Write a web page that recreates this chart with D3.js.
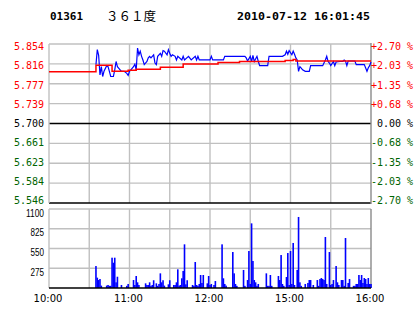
<!DOCTYPE html>
<html><head><meta charset="utf-8">
<script src="https://cdn.jsdelivr.net/npm/d3@7"></script>
<style>html,body{margin:0;padding:0;background:#fff;overflow:hidden}</style>
</head><body><svg id="c" width="414" height="314"></svg>
<script>
// ---------- data ----------
const stockCode = "01361";
const stockName = "３６１度";
const stamp = "2010-07-12 16:01:45";
const prevClose = 5.700;
const priceLabels = ["5.854","5.816","5.777","5.739","5.700","5.661","5.623","5.584","5.546"];
const pctLabels = ["+2.70 %","+2.03 %","+1.35 %","+0.68 %"," 0.00 %","-0.68 %","-1.35 %","-2.03 %","-2.70 %"];
const volTicks = [1100, 825, 550, 275];
const timeLabels = ["10:00","11:00","12:00","15:00","16:00"];

const priceTimes = ["10:35","10:36","10:37","10:38","10:39","10:40","10:41","10:43","10:44","10:45","10:46","10:48","10:49","10:50","10:51","10:53","10:54","10:56","10:58","10:59","11:00","11:01","11:03","11:04","11:05","11:06","11:07","11:08","11:09","11:10","11:11","11:13","11:14","11:15","11:16","11:18","11:19","11:20","11:21","11:23","11:24","11:25","11:26","11:28","11:29","11:30","11:31","11:32","11:34","11:35","11:36","11:39","11:40","11:41","11:44","11:46","11:49","11:50","11:51","11:52","12:00","12:01","12:02","12:10","12:11","12:26","12:27","12:28","12:30","14:31","14:32","14:33","14:35","14:36","14:37","14:43","14:44","14:54","14:56","14:57","14:58","14:59","15:01","15:02","15:03","15:04","15:05","15:06","15:07","15:08","15:09","15:11","15:14","15:15","15:24","15:26","15:27","15:28","15:29","15:30","15:32","15:33","15:34","15:37","15:39","15:40","15:41","15:42","15:43","15:48","15:49","15:55","15:57","15:58","15:59","16:00"];
const priceValues = [5.814,5.843,5.832,5.794,5.810,5.791,5.801,5.812,5.810,5.801,5.791,5.791,5.804,5.820,5.810,5.804,5.801,5.801,5.797,5.793,5.801,5.804,5.810,5.815,5.804,5.846,5.833,5.840,5.830,5.823,5.814,5.820,5.827,5.830,5.827,5.833,5.817,5.814,5.830,5.836,5.830,5.841,5.840,5.833,5.843,5.836,5.830,5.833,5.830,5.823,5.830,5.823,5.830,5.823,5.830,5.823,5.830,5.823,5.830,5.823,5.823,5.830,5.823,5.823,5.830,5.830,5.827,5.821,5.830,5.820,5.832,5.820,5.830,5.820,5.812,5.812,5.830,5.830,5.833,5.840,5.834,5.841,5.833,5.840,5.834,5.827,5.823,5.801,5.810,5.807,5.804,5.801,5.801,5.812,5.812,5.823,5.830,5.820,5.817,5.812,5.820,5.812,5.819,5.820,5.820,5.823,5.821,5.812,5.821,5.821,5.814,5.814,5.801,5.808,5.812,5.819];

const avgTimes = ["10:00","10:35","10:47","10:59","11:05","11:23","11:40","12:06","12:22","14:56","15:02","15:04","16:00"];
const avgValues = [5.800,5.813,5.801,5.803,5.805,5.809,5.815,5.818,5.820,5.822,5.824,5.821,5.821];

const volTimes = ["10:35","10:36","10:37","10:38","10:39","10:43","10:44","10:45","10:46","10:47","10:48","10:49","10:50","10:51","10:54","10:58","10:59","11:03","11:04","11:05","11:06","11:07","11:12","11:13","11:14","11:15","11:16","11:17","11:18","11:20","11:21","11:22","11:23","11:24","11:25","11:26","11:29","11:30","11:33","11:34","11:35","11:36","11:37","11:38","11:39","11:40","11:41","11:42","11:43","11:47","11:48","11:49","11:50","11:51","11:52","11:53","11:54","11:55","11:58","11:59","12:00","12:01","12:03","12:04","12:09","12:10","12:11","12:12","12:17","12:18","12:19","12:20","12:25","12:26","12:28","12:29","12:30","14:31","14:32","14:33","14:34","14:35","14:36","14:42","14:43","14:44","14:45","14:46","14:51","14:52","14:53","14:54","14:55","14:57","14:58","14:59","15:00","15:01","15:02","15:03","15:05","15:06","15:07","15:08","15:11","15:13","15:14","15:15","15:17","15:20","15:21","15:22","15:23","15:24","15:25","15:26","15:27","15:29","15:30","15:31","15:32","15:34","15:35","15:36","15:38","15:39","15:40","15:41","15:43","15:44","15:47","15:48","15:49","15:50","15:51","15:52","15:53","15:54","15:55","15:56","15:57","15:58","15:59","16:00"];
const volValues = [306,144,111,125,33,33,42,30,30,422,352,422,79,157,42,30,56,111,42,167,79,42,65,42,42,79,30,42,108,65,30,56,204,79,108,33,51,108,42,42,79,260,33,42,135,237,608,51,108,42,30,362,42,30,56,181,70,181,65,167,42,56,42,97,608,135,56,33,501,204,56,30,251,30,111,515,56,900,376,111,79,30,56,204,30,30,181,30,167,111,459,56,30,153,487,42,515,56,627,42,251,989,79,30,56,70,111,111,42,111,30,125,139,125,111,710,56,501,42,56,111,306,79,42,111,111,30,696,70,125,30,30,56,56,181,111,181,70,139,125,56,139,56,56];

// ---------- helpers ----------
function tIdx(t){ const [h,m]=t.split(":").map(Number); const mm=h*60+m; return mm<=750 ? mm-600 : 150+(mm-870); }

const svg = d3.select("#c");
const L=49, R=371, pT=44, pB=203, vT=209, vB=288;
const RED="#ff0000", GREEN="#006400", GRID="#c0c0c0", EDGE="#8a8a8a";

const x = d3.scaleLinear().domain([0,240]).range([L,R]);
const yP = d3.scaleLinear().domain([prevClose*(1-0.027), prevClose*(1+0.027)]).range([pB,pT]);
const yPL = d3.scaleLinear().domain(yP.domain()).range([200.4,46.6]);
const yV = d3.scaleLinear().domain([0,1100]).range([vB,vT]);

svg.append("rect").attr("width",414).attr("height",314).attr("fill","#fff");

// ---------- header ----------
svg.append("text").attr("x",50).attr("y",20).attr("font-family","DejaVu Sans Mono").attr("font-weight","bold")
  .attr("font-size","11px").attr("textLength",33).attr("lengthAdjust","spacingAndGlyphs").text(stockCode);
svg.append("text").attr("x",106).attr("y",20.5).attr("font-family","Noto Sans CJK SC").attr("font-size","12.5px").text(stockName);
svg.append("text").attr("x",237).attr("y",20).attr("font-family","DejaVu Sans Mono").attr("font-weight","bold")
  .attr("font-size","11px").attr("textLength",133).attr("lengthAdjust","spacingAndGlyphs").text(stamp);

// ---------- price panel grid ----------
const gP = svg.append("g");
const pTicks = d3.range(-4,5).map(k => prevClose*(1+k*0.00675));
const xTicks = d3.range(0,241,30);
gP.selectAll("line.v").data(xTicks.slice(1,-1)).join("line")
  .attr("x1",d=>x(d)).attr("x2",d=>x(d)).attr("y1",pT).attr("y2",pB).attr("stroke",GRID).attr("stroke-width",1.4);
gP.selectAll("line.h").data(pTicks).join("line")
  .attr("x1",L).attr("x2",R).attr("y1",d=>yP(d)).attr("y2",d=>yP(d))
  .attr("stroke",(d,i)=> (i===0||i===4) ? "#000" : GRID).attr("stroke-width",1.4);
gP.append("line").attr("x1",L).attr("x2",L).attr("y1",pT).attr("y2",pB).attr("stroke",GRID).attr("stroke-width",1.4);
gP.append("line").attr("x1",R).attr("x2",R).attr("y1",pT-1).attr("y2",pB+1).attr("stroke",EDGE).attr("stroke-width",1.4);

// ---------- volume panel grid ----------
const gV = svg.append("g");
gV.selectAll("line.v").data(xTicks.slice(1,-1)).join("line")
  .attr("x1",d=>x(d)).attr("x2",d=>x(d)).attr("y1",vT).attr("y2",vB).attr("stroke",GRID).attr("stroke-width",1.4);
gV.selectAll("line.h").data(volTicks).join("line")
  .attr("x1",L).attr("x2",R).attr("y1",d=>yV(d)).attr("y2",d=>yV(d)).attr("stroke",GRID).attr("stroke-width",1.4);
gV.append("line").attr("x1",L).attr("x2",L).attr("y1",vT).attr("y2",vB).attr("stroke",GRID).attr("stroke-width",1.4);
gV.append("line").attr("x1",R).attr("x2",R).attr("y1",vT).attr("y2",vB).attr("stroke",EDGE).attr("stroke-width",1.4);

// ---------- volume bars ----------
const vol = volTimes.map((t,i)=>({i:tIdx(t), v:volValues[i]}));
gV.selectAll("rect.bar").data(vol).join("rect")
  .attr("x",d=>x(d.i)-0.8).attr("width",1.6)
  .attr("y",d=>yV(d.v)).attr("height",d=>yV(0)-yV(d.v)).attr("fill","#0000ff");
gV.append("line").attr("x1",L).attr("x2",R).attr("y1",vB).attr("y2",vB).attr("stroke","#000").attr("stroke-width",1.6);

// ---------- lines ----------
const price = priceTimes.map((t,i)=>({i:tIdx(t), p:priceValues[i]}));
const avg = avgTimes.map((t,i)=>({i:tIdx(t), p:avgValues[i]}));
svg.append("path").datum(price).attr("fill","none").attr("stroke","#0000ff").attr("stroke-width",1.2)
  .attr("d", d3.line().x(d=>x(d.i)).y(d=>yP(d.p)));
svg.append("path").datum(avg).attr("fill","none").attr("stroke",RED).attr("stroke-width",1.5)
  .attr("d", d3.line().curve(d3.curveStepAfter).x(d=>x(d.i)).y(d=>yP(d.p)));

// ---------- labels ----------
const colorOf = i => i<4 ? RED : (i===4 ? "#000" : GREEN);
svg.selectAll("text.pl").data(pTicks.slice().reverse()).join("text")
  .attr("x",44).attr("y",(d,i)=>yPL(d)+3.6).attr("text-anchor","end")
  .attr("font-family","DejaVu Sans Mono").attr("font-size","10px")
  .attr("fill",(d,i)=>colorOf(i)).text((d,i)=>priceLabels[i]);
svg.selectAll("text.rl").data(pTicks.slice().reverse()).join("text")
  .attr("x",371).attr("y",(d,i)=>yPL(d)+3.6).attr("xml:space","preserve")
  .style("white-space","pre")
  .attr("font-family","DejaVu Sans Mono").attr("font-size","10px")
  .attr("fill",(d,i)=>colorOf(i)).text((d,i)=>pctLabels[i]);

svg.selectAll("text.vl").data(volTicks).join("text")
  .attr("x",44).attr("y",d=>yV(d)+7.6).attr("text-anchor","end")
  .attr("font-family","Liberation Sans").attr("font-size","10px")
  .attr("textLength",d=>String(d).length*4.5).attr("lengthAdjust","spacingAndGlyphs")
  .text(d=>d);

svg.selectAll("text.tl").data(timeLabels).join("text")
  .attr("x",d=>x(tIdx(d))-1).attr("y",302).attr("text-anchor","middle")
  .attr("font-family","DejaVu Sans").attr("font-size","10px").text(d=>d);
</script></body></html>
